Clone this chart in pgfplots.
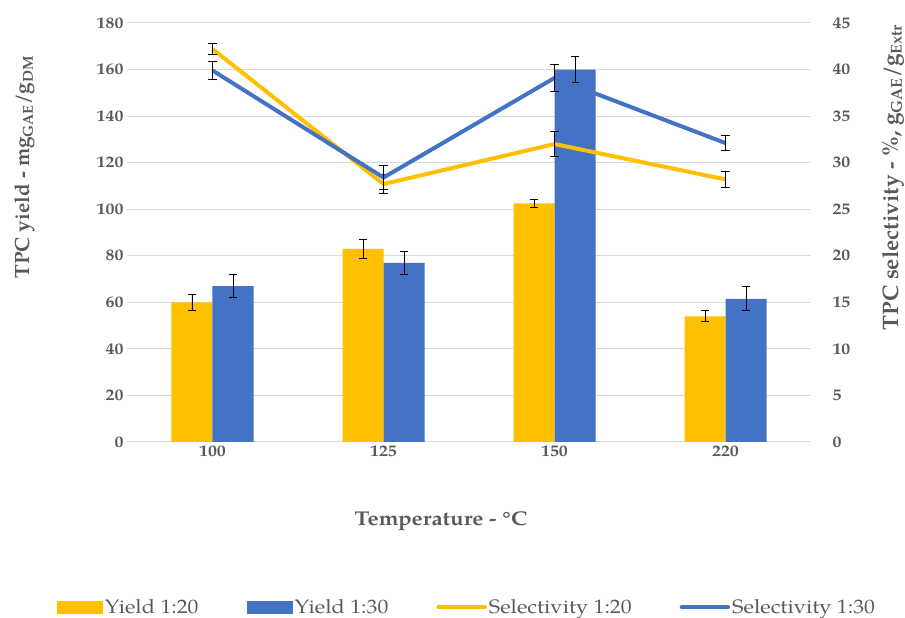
\documentclass[border=0pt]{standalone}
\usepackage{pgfplots}
\pgfplotsset{compat=1.18}
\usepackage{fontspec}
\setmainfont{texgyrepagella}[Extension=.otf, UprightFont=*-regular, BoldFont=*-bold, FakeStretch=1.12]
\newfontfamily\rotfont{texgyrepagella}[Extension=.otf, UprightFont=*-regular, BoldFont=*-bold]
\definecolor{cy}{HTML}{FFC000}
\definecolor{cb}{HTML}{4472C4}
\definecolor{tg}{HTML}{595959}
\definecolor{gl}{HTML}{D9D9D9}
\pgfplotstableread{
x y e
0 60 3.5
1 83 4.0
2 102.5 1.7
3 54 2.4
}\yieldA
\pgfplotstableread{
x y e
0 67 5.0
1 77 5.0
2 160 5.5
3 61.5 5.2
}\yieldB
\pgfplotstableread{
x y e
0 42.2 0.6
1 27.7 1.0
2 32.0 1.3
3 28.2 0.9
}\selA
\pgfplotstableread{
x y e
0 39.9 1.0
1 28.4 1.25
2 39.1 1.4
3 32.1 0.8
}\selB
\begin{document}
\begin{tikzpicture}[x=1bp,y=1bp]
\path[use as bounding box] (-127,-176) rectangle (778,442);
\pgfplotsset{
  common/.style={
    at={(0,0)}, anchor=south west, scale only axis,
    width=684bp, height=419bp,
    xmin=-0.5, xmax=3.5,
    axis line style={draw=none},
    major tick length=0pt,
    tick label style={font=\fontsize{16}{16}\selectfont\bfseries, text=tg},
    /pgf/number format/assume math mode=true,
  },
  ebar/.style={error bars/.cd, y dir=both, y explicit,
    error bar style={black, line width=0.9bp},
    error mark options={black, line width=0.9bp, mark size=4.2bp, rotate=90}},
}
\begin{axis}[common,
  ybar=0pt, bar width=41bp,
  ymin=0, ymax=180, ytick={0,20,...,180},
  xtick={0,1,2,3}, xticklabels={100,125,150,220},
  ymajorgrids, major grid style={gl, line width=1bp},
  xlabel={Temperature - \textdegree C},
  xlabel style={at={(axis description cs:0.459,-0.189)}, anchor=center, font=\fontsize{20}{20}\selectfont\bfseries, text=tg},
  ylabel={\rotfont TPC yield - mg\textsubscript{GAE}/g\textsubscript{DM}},
  ylabel style={at={(axis description cs:-0.149,0.656)}, anchor=center, font=\fontsize{20.7}{20.7}\selectfont\bfseries, text=tg},
  legend style={at={(axis description cs:0.497,-0.394)}, anchor=center, draw=none, fill=none,
    legend columns=4, font=\fontsize{19.5}{19.5}\selectfont, text=tg,
    /tikz/every even column/.append style={column sep=46bp}},
]
\addplot[fill=cy, draw=none,
  legend image code/.code={\fill[cy] (0bp,-6.5bp) rectangle (46bp,6.5bp);}, ebar]
  table[x=x, y=y, y error=e]{\yieldA};
\addlegendentry{Yield 1:20}
\addplot[fill=cb, draw=none,
  legend image code/.code={\fill[cb] (0bp,-6.5bp) rectangle (46bp,6.5bp);}, ebar]
  table[x=x, y=y, y error=e]{\yieldB};
\addlegendentry{Yield 1:30}
\addlegendimage{legend image code/.code={\draw[cy, line width=4.5bp, line cap=round] (1bp,0bp) -- (47bp,0bp);}}
\addlegendentry{Selectivity 1:20}
\addlegendimage{legend image code/.code={\draw[cb, line width=4.5bp, line cap=round] (1bp,0bp) -- (47bp,0bp);}}
\addlegendentry{Selectivity 1:30}
\end{axis}
\begin{axis}[common,
  ymin=0, ymax=45, ytick={0,5,...,45},
  axis x line=none, axis y line*=right,
  yticklabel style={anchor=west, xshift=18bp},
  ylabel={\rotfont TPC selectivity - \%, g\textsubscript{GAE}/g\textsubscript{Extr}},
  ylabel style={at={(axis description cs:1.12,0.631)}, anchor=center, rotate=0, font=\fontsize{22.5}{22.5}\selectfont\bfseries, text=tg},
]
\addplot[cy, line width=4bp, mark=none, line join=round, ebar] table[x=x, y=y, y error=e]{\selA};
\addplot[cb, line width=4bp, mark=none, line join=round, ebar] table[x=x, y=y, y error=e]{\selB};
\end{axis}
\end{tikzpicture}
\end{document}
